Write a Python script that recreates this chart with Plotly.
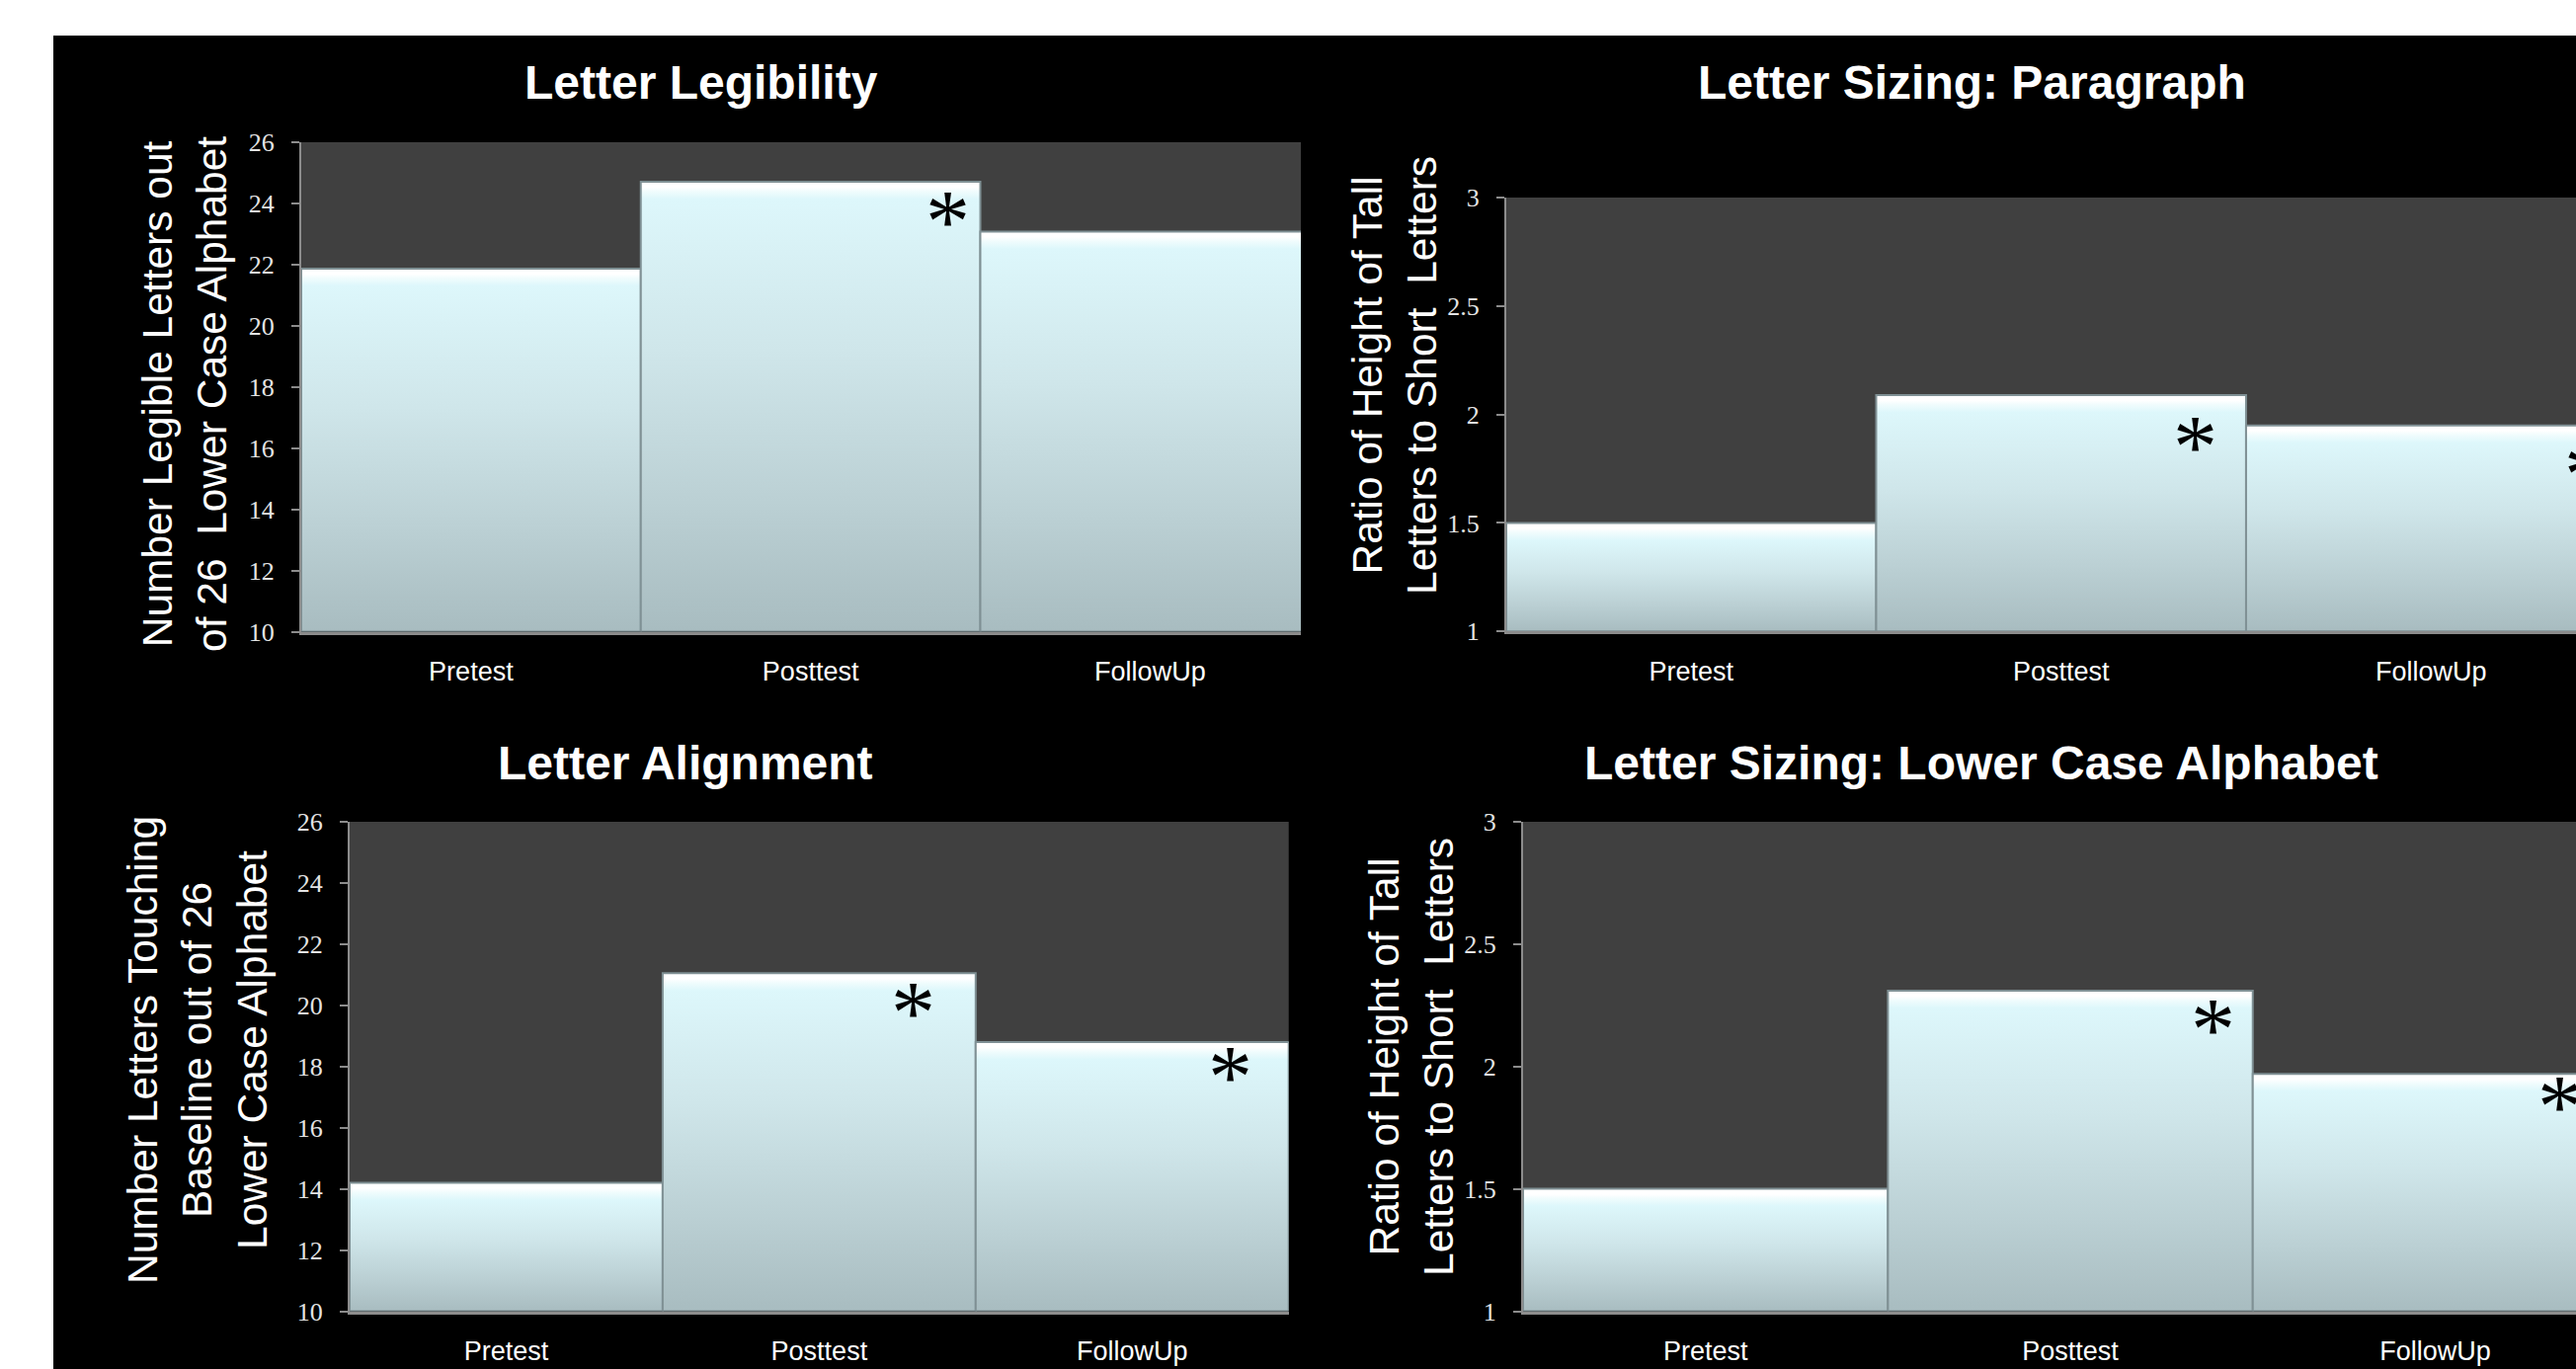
import plotly.graph_objects as go

# ---------------------------------------------------------------------------
# Data
# ---------------------------------------------------------------------------
categories = ["Pretest", "Posttest", "FollowUp"]

legibility = [21.87, 24.71, 23.08]          # letters legible out of 26
sizing_paragraph = [1.50, 2.09, 1.95]       # tall/short height ratio, paragraph
alignment = [14.2, 21.05, 18.8]             # letters touching baseline out of 26
sizing_alphabet = [1.50, 2.31, 1.97]        # tall/short height ratio, alphabet

# bars flagged as significantly different from pretest
legibility_sig = [False, True, False]
paragraph_sig = [False, True, True]
alignment_sig = [False, True, True]
alphabet_sig = [False, True, True]

panel_titles = [
    "Letter Legibility",
    "Letter Sizing: Paragraph",
    "Letter Alignment",
    "Letter Sizing: Lower Case Alphabet",
]
axis_titles = [
    "Number Legible Letters out<br>of 26 \u00a0Lower Case Alphabet",
    "Ratio of Height of Tall<br>Letters to Short \u00a0Letters",
    "Number Letters Touching<br>Baseline out of 26<br>Lower Case Alphabet",
    "Ratio of Height of Tall<br>Letters to Short \u00a0Letters",
]

# ---------------------------------------------------------------------------
# Layout (pixel geometry of the slide)
# ---------------------------------------------------------------------------
W, H = 2608, 1386


def px_x(x):
    return x / W


def px_y(y):
    return 1 - y / H


# box = visible plot rectangle (left, top, right, bottom) in pixels;
# xmax < 2.5 means the last bar runs past the visible edge
panels = [
    dict(values=legibility, sig=legibility_sig, box=(305, 144, 1317, 639.5),
         yrange=(10, 26), dtick=2, xmax=2.444,
         title_xy=(710, 84), ytitle_xy=(187, 399),
         star=[None, (0.405, -41), None]),
    dict(values=sizing_paragraph, sig=paragraph_sig, box=(1525, 200, 2608, 639.3),
         yrange=(1, 3), dtick=0.5, xmax=2.392,
         title_xy=(1996, 84), ytitle_xy=(1412, 380),
         star=[None, (0.362, -53), (0.42, -50)]),
    dict(values=alignment, sig=alignment_sig, box=(354, 832, 1304.7, 1327.5),
         yrange=(10, 26), dtick=2, xmax=2.5,
         title_xy=(694, 772), ytitle_xy=(200, 1063),
         star=[None, (0.30, -40), (0.314, -36)]),
    dict(values=sizing_alphabet, sig=alphabet_sig, box=(1542, 832, 2608, 1327.5),
         yrange=(1, 3), dtick=0.5, xmax=2.386,
         title_xy=(2006, 772), ytitle_xy=(1429, 1070),
         star=[None, (0.39, -40), (0.34, -33)]),
]

AXIS_GREY = "#8c8c8c"
BAR_EDGE = "#7f9094"

fig = go.Figure()
annotations = []

for k, p in enumerate(panels, start=1):
    xa = "x" if k == 1 else f"x{k}"
    ya = "y" if k == 1 else f"y{k}"
    x0, y0, x1, y1 = p["box"]
    lo, hi = p["yrange"]
    plot_h = y1 - y0
    cat_px = (x1 - x0) / (p["xmax"] + 0.5)

    for i, v in enumerate(p["values"]):
        # light cyan gradient with a bright bevel along the top edge
        bar_px = (v - lo) / (hi - lo) * plot_h
        f = 11.0 / bar_px
        g = 1.6 * f
        main = [(0.0, "#a8bcc0"), (0.3, "#bbd0d4"), (0.65, "#cfe6ea"), (1.0, "#ddf7fb")]
        cs = [[s * (1 - g), c] for s, c in main]
        cs += [[1 - 0.9 * f, "#f0fcfd"], [1 - 0.5 * f, "#ffffff"], [1.0, "#ffffff"]]
        fig.add_trace(go.Scatter(
            x=[i - 0.5, i - 0.5, i + 0.5, i + 0.5, i - 0.5],
            y=[lo, v, v, lo, lo],
            xaxis=xa, yaxis=ya,
            mode="lines", fill="toself",
            fillgradient=dict(type="vertical", colorscale=cs),
            line=dict(color=BAR_EDGE, width=2),
            hoverinfo="skip", showlegend=False,
        ))

        if p["sig"][i]:
            dx, dy = p["star"][i]
            # keep the anchor inside the visible range, push past it in pixels
            sx = min(i + dx, p["xmax"] - 1e-3)
            annotations.append(dict(
                x=sx, y=v, xref=xa, yref=ya, yshift=dy,
                xshift=(i + dx - sx) * cat_px,
                text="*", showarrow=False, xanchor="center", yanchor="middle",
                font=dict(family="Liberation Serif, Times New Roman, serif",
                          size=90, color="black"),
            ))

    axis_suffix = "" if k == 1 else str(k)
    fig.update_layout(**{
        f"xaxis{axis_suffix}": dict(
            domain=[px_x(x0), px_x(x1)], anchor=ya, range=[-0.5, p["xmax"]],
            tickvals=list(range(len(categories))), ticktext=categories,
            showgrid=False, zeroline=False, showline=True,
            linecolor=AXIS_GREY, linewidth=3, ticks="",
            ticklabelstandoff=14, automargin=False,
            tickfont=dict(family="Liberation Sans, Arial, sans-serif", size=27,
                          color="white"),
            fixedrange=True,
        ),
        f"yaxis{axis_suffix}": dict(
            domain=[px_y(y1), px_y(y0)], anchor=xa, range=[lo, hi], dtick=p["dtick"],
            showgrid=False, zeroline=False, showline=True,
            linecolor=AXIS_GREY, linewidth=2, ticks="outside", ticklen=8,
            tickwidth=2, tickcolor=AXIS_GREY, ticklabelstandoff=12,
            automargin=False,
            tickfont=dict(family="Liberation Serif, Times New Roman, serif", size=26,
                          color="#e4e4e4"),
            fixedrange=True,
        ),
    })

    tx, ty = p["title_xy"]
    annotations.append(dict(
        x=px_x(tx), y=px_y(ty), xref="paper", yref="paper",
        text=panel_titles[k - 1], showarrow=False,
        xanchor="center", yanchor="middle",
        font=dict(family="Liberation Sans, Arial, sans-serif", size=48,
                  color="white", weight="bold"),
    ))
    ax_, ay_ = p["ytitle_xy"]
    annotations.append(dict(
        x=px_x(ax_), y=px_y(ay_), xref="paper", yref="paper",
        text=axis_titles[k - 1], showarrow=False, textangle=-90,
        xanchor="center", yanchor="middle", align="center",
        font=dict(family="Liberation Sans, Arial, sans-serif", size=42.5,
                  color="white"),
    ))

fig.update_layout(
    width=W, height=H,
    margin=dict(l=0, r=0, t=0, b=0, pad=0, autoexpand=False),
    paper_bgcolor="black",
    plot_bgcolor="#404040",
    showlegend=False,
    annotations=annotations,
    shapes=[
        # white slide border along the top and left
        dict(type="rect", xref="paper", yref="paper", x0=0, x1=1,
             y0=px_y(36), y1=1, fillcolor="white", line_width=0, layer="above"),
        dict(type="rect", xref="paper", yref="paper", x0=0, x1=px_x(54),
             y0=0, y1=1, fillcolor="white", line_width=0, layer="above"),
    ],
)

fig.write_html("out.html", config={"displayModeBar": False})
